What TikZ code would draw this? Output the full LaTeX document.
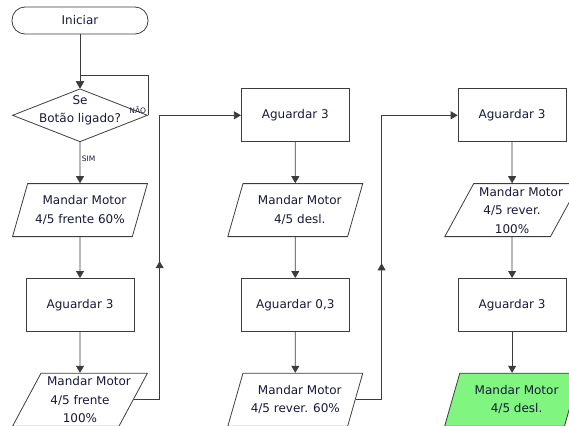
\documentclass[tikz,border=0pt]{standalone}
\usepackage{fontspec}
\setmainfont{DejaVu Sans}
\usetikzlibrary{arrows.meta,decorations.markings,shapes.geometric,positioning}
\definecolor{lineColor}{RGB}{60,60,60}
\definecolor{textColor}{RGB}{24,24,60}
\definecolor{doneColor}{RGB}{128,245,128}
\tikzset{caption/.style={text=textColor, align=center, font=\fontsize{12bp}{18.5bp}\selectfont}}
\tikzset{block/.style={caption, draw=lineColor, line width=0.8pt, inner sep=0pt}}
\tikzset{terminal/.style={block, minimum width=136bp, minimum height=27bp, rounded corners=13bp}}
\tikzset{decision/.style={block, diamond, minimum width=135bp, minimum height=53bp}}
\tikzset{waitbox/.style={block, minimum width=108bp, minimum height=53bp}}
\tikzset{iobox/.style={block, trapezium, trapezium left angle=65, trapezium right angle=115, trapezium stretches=true, minimum width=135bp, minimum height=53bp}}
\tikzset{answer/.style={text=textColor, font=\fontsize{7.5bp}{9bp}\selectfont, inner sep=1.5bp}}
\tikzset{flow/.style={color=lineColor, line width=0.8pt, -{Triangle[width=8bp,length=7bp]}}}
\tikzset{feedback/.style={postaction={decorate}, decoration={markings, mark=at position #1 with {\arrow{Triangle[width=8bp,length=7bp]}}}}}

\begin{document}
\begin{tikzpicture}[node distance=41bp and 93bp]
\useasboundingbox (-80bp,-405.5bp) rectangle (489bp,20.5bp);
% Nodes
\node (start) [terminal] {Iniciar};
\node (decision) [decision, below=54bp of start] {};
\node (question) [caption] at ([yshift=5bp]decision.center) {Se\\Botão ligado?};
\node (front60) [iobox, below=of decision] {\hspace*{9bp}Mandar Motor\\4/5 frente 60\%};
\node (waitA) [waitbox, below=of front60] {Aguardar 3};
\node (front100) [iobox, below=of waitA] {\makebox[0pt]{\hspace*{18bp}Mandar Motor}\\4/5 frente\\100\%};

\node (waitB) [waitbox, right=of decision] {Aguardar 3};
\node (offA) [iobox, below=of waitB] {\hspace*{9bp}Mandar Motor\\\hspace*{9bp}4/5 desl.};
\node (waitC) [waitbox, below=of offA] {Aguardar 0,3};
\node (rev60) [iobox, below=of waitC] {\hspace*{9bp}Mandar Motor\\4/5 rever. 60\%};

\node (waitD) [waitbox, right=108bp of waitB] {Aguardar 3};
\node (rev100) [iobox, below=of waitD] {\makebox[0pt]{\hspace*{18bp}Mandar Motor}\\4/5 rever.\\100\%};
\node (waitE) [waitbox, below=of rev100] {Aguardar 3};
\node (offB) [iobox, fill=doneColor, below=of waitE] {\hspace*{9bp}Mandar Motor\\\hspace*{9bp}4/5 desl.};

% Connectors
\begin{scope}[flow]
\draw (start) -- (decision);
\draw (decision.east) node[answer, anchor=south east] (no) {NÃO} -- ++(0,40bp) -| (decision.north);
\draw (decision) -- node[answer, right, pos=0.41] (yes) {SIM} (front60);
\draw (front60) -- (waitA);
\draw (waitA) -- (front100);
\draw[feedback=0.42] (front100.east) -- ++(26bp,0) |- (waitB.west);

\draw (waitB) -- (offA);
\draw (offA) -- (waitC);
\draw (waitC) -- (rev60);
\draw[feedback=0.42] (rev60.east) -- ++(26bp,0) |- (waitD.west);

\draw (waitD) -- (rev100);
\draw (rev100) -- (waitE);
\draw (waitE.south) -- (offB.north);
\end{scope}

\end{tikzpicture}
\end{document}
